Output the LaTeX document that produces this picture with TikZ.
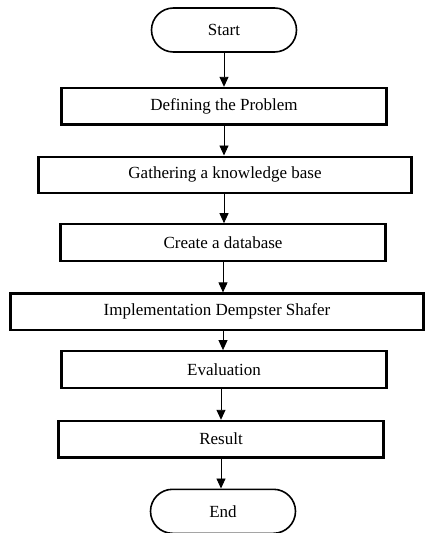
\documentclass[tikz,border=0pt]{standalone}
\usepackage{fontspec}
\setmainfont{Liberation Serif}
\usetikzlibrary{positioning, arrows.meta}

\begin{document}
\begin{tikzpicture}[
          terminal/.style = {draw, line width=1.6pt, rounded corners=22pt, minimum width=145pt, minimum height=44pt, font=\fontsize{17}{20}\selectfont},
          stepbox/.style = {draw, line width=2.2pt, minimum height=36.5pt, font=\fontsize{17}{20}\selectfont},
          flow/.style = {-{Triangle[length=10pt,width=9pt]}, line width=0.9pt}
         ]

        % Rahmen
        \useasboundingbox (0pt,0pt) rectangle (426pt,-533pt);

        % Start
        \node[terminal] (start) at (224pt,-30pt) {Start};

        % Schritte
        \node[stepbox, minimum width=325pt, below=34pt of start] (problem) {Defining the Problem};
        \node[stepbox, minimum width=373pt, below=30pt of problem, xshift=1pt] (knowledge) {Gathering a knowledge base};
        \node[stepbox, minimum width=325pt, below=29pt of knowledge, xshift=-2pt] (database) {Create a database};
        \node[stepbox, minimum width=413pt, below=30.5pt of database, xshift=-6pt] (dempster) {Implementation Dempster Shafer};
        \node[stepbox, minimum width=325pt, below=19pt of dempster, xshift=7pt] (evaluation) {Evaluation};
        \node[stepbox, minimum width=325pt, below=31pt of evaluation, xshift=-3pt] (result) {Result};

        % Ende
        \node[terminal, below=30pt of result, xshift=2pt] (end) {End};

        % Pfeile
        \draw[flow] (start.south) -- (problem.north);
        \draw[flow] (problem.south) -- (problem.south |- knowledge.north);
        \draw[flow] (problem.south |- knowledge.south) -- (problem.south |- database.north);
        \draw[flow] (database.south) -- (database.south |- dempster.north);
        \draw[flow] (database.south |- dempster.south) -- (database.south |- evaluation.north);
        \draw[flow] (evaluation.south -| result.north) -- (result.north);
        \draw[flow] (result.south) -- (result.south |- end.north);

        \end{tikzpicture}
\end{document}
